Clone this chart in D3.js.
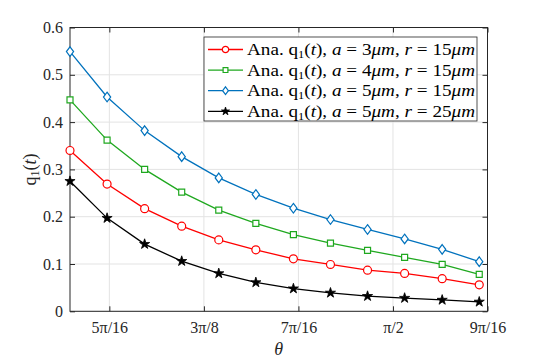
<!DOCTYPE html>
<html>
<head>
<meta charset="utf-8">
<script src="https://cdn.jsdelivr.net/npm/d3@7"></script>
<style>
  body { margin: 0; background: #fff; }
  svg { display: block; }
</style>
</head>
<body>
<svg id="chart" width="540" height="360"></svg>
<script>
// theta samples (rad)
var theta = [0.900, 0.977, 1.055, 1.132, 1.209, 1.286, 1.364, 1.441, 1.518, 1.595, 1.673, 1.750];

var q_a3_r15 = [0.340, 0.269, 0.217, 0.180, 0.151, 0.130, 0.111, 0.099, 0.087, 0.080, 0.069, 0.056];
var q_a4_r15 = [0.447, 0.362, 0.300, 0.252, 0.214, 0.186, 0.162, 0.144, 0.129, 0.114, 0.099, 0.078];
var q_a5_r15 = [0.549, 0.453, 0.382, 0.327, 0.282, 0.247, 0.218, 0.194, 0.173, 0.153, 0.131, 0.105];
var q_a5_r25 = [0.275, 0.197, 0.142, 0.106, 0.080, 0.061, 0.048, 0.039, 0.032, 0.028, 0.024, 0.020];

var xTicks = [5 * Math.PI / 16, 3 * Math.PI / 8, 7 * Math.PI / 16, Math.PI / 2, 9 * Math.PI / 16];
var xTickLabels = ['5\u03c0/16', '3\u03c0/8', '7\u03c0/16', '\u03c0/2', '9\u03c0/16'];
var yTicks = [0, 0.1, 0.2, 0.3, 0.4, 0.5, 0.6];

var series = [
  {a: 3, r: 15, values: q_a3_r15, color: '#ff0000', marker: 'circle'},
  {a: 4, r: 15, values: q_a4_r15, color: '#1fa81f', marker: 'square'},
  {a: 5, r: 15, values: q_a5_r15, color: '#0072bd', marker: 'diamond'},
  {a: 5, r: 25, values: q_a5_r25, color: '#000000', marker: 'star'}
];

var FONT = 'Liberation Serif';
var margin = {left: 70, right: 52.5, top: 27.5, bottom: 48.7};
var width = 540 - margin.left - margin.right,
    height = 360 - margin.top - margin.bottom;

var svg = d3.select('#chart');
var g = svg.append('g').attr('transform', 'translate(' + margin.left + ',' + margin.top + ')');

var x = d3.scaleLinear().domain([0.9, 9 * Math.PI / 16]).range([0, width]);
var y = d3.scaleLinear().domain([0, 0.6]).range([height, 0]);

// grid
g.append('g').selectAll('line').data(xTicks).enter().append('line')
  .attr('x1', function(d) { return x(d); }).attr('x2', function(d) { return x(d); })
  .attr('y1', 0).attr('y2', height)
  .attr('stroke', '#e3e3e3').attr('stroke-width', 1);
g.append('g').selectAll('line').data(yTicks).enter().append('line')
  .attr('y1', function(d) { return y(d); }).attr('y2', function(d) { return y(d); })
  .attr('x1', 0).attr('x2', width)
  .attr('stroke', '#e3e3e3').attr('stroke-width', 1);

// axes (matlab look, ticks inside)
var axisColor = '#262626';
function styleAxis(sel) {
  sel.attr('font-family', FONT).attr('font-size', 16);
  sel.select('.domain').remove();
  sel.selectAll('line').attr('stroke', axisColor);
  sel.selectAll('text').attr('font-family', FONT).attr('font-size', 16).attr('fill', axisColor);
}
var xAxis = d3.axisBottom(x).tickValues(xTicks).tickSizeInner(-5).tickSizeOuter(0).tickPadding(10)
  .tickFormat(function(d, i) { return xTickLabels[i]; });
g.append('g').attr('transform', 'translate(0,' + height + ')').call(xAxis).call(styleAxis);
g.append('g').call(d3.axisTop(x).tickValues(xTicks).tickSizeInner(-5).tickSizeOuter(0).tickFormat(''))
  .call(styleAxis);

var yAxis = d3.axisLeft(y).tickValues(yTicks).tickSizeInner(-5).tickSizeOuter(0).tickPadding(7)
  .tickFormat(function(d) { return d === 0 ? '0' : d3.format('.1f')(d); });
g.append('g').call(yAxis).call(styleAxis);
g.append('g').attr('transform', 'translate(' + width + ',0)')
  .call(d3.axisRight(y).tickValues(yTicks).tickSizeInner(-5).tickSizeOuter(0).tickFormat(''))
  .call(styleAxis);

g.append('rect').attr('x', 0).attr('y', 0).attr('width', width).attr('height', height)
  .attr('fill', 'none').attr('stroke', axisColor).attr('stroke-width', 1);

// markers
function markerPath(s, big) {
  var k = big ? 1 : 0.8;
  if (s.marker === 'diamond') {
    return 'M0,' + (-4.8 * k) + 'L' + (3.6 * k) + ',0L0,' + (4.8 * k) + 'L' + (-3.6 * k) + ',0Z';
  }
  var type = {circle: d3.symbolCircle, square: d3.symbolSquare, star: d3.symbolStar}[s.marker];
  var size = {circle: 50, square: 36, star: 32}[s.marker];
  return d3.symbol().type(type).size(size * k * k)();
}
function drawMarker(sel, s, big) {
  var p = sel.append('path').attr('d', markerPath(s, big));
  if (s.marker === 'star') {
    p.attr('fill', s.color).attr('stroke', s.color).attr('stroke-width', 0.8).attr('stroke-linejoin', 'round');
  } else {
    p.attr('fill', '#fff').attr('stroke', s.color).attr('stroke-width', 1.2);
  }
}

var line = d3.line().x(function(d, i) { return x(theta[i]); }).y(function(d) { return y(d); });

series.forEach(function(s) {
  g.append('path').datum(s.values).attr('d', line)
    .attr('fill', 'none').attr('stroke', s.color).attr('stroke-width', 1.3);
  g.append('g').selectAll('g').data(s.values).enter().append('g')
    .attr('transform', function(d, i) { return 'translate(' + x(theta[i]) + ',' + y(d) + ')'; })
    .each(function() { drawMarker(d3.select(this), s, true); });
});

// legend
var legend = svg.append('g').attr('transform', 'translate(204,37)');
legend.append('rect').attr('width', 273).attr('height', 84)
  .attr('fill', '#fff').attr('stroke', axisColor).attr('stroke-width', 0.8);

function legendLabel(t, s) {
  var parts = [
    ['Ana. ', 'normal'], ['q', 'normal'], ['1', 'sub'], ['(', 'normal'], ['t', 'italic'], ['), ', 'normal'],
    ['a', 'italic'], [' = ' + s.a, 'normal'], ['\u03bcm', 'italic'], [', ', 'normal'],
    ['r', 'italic'], [' = ' + s.r, 'normal'], ['\u03bcm', 'italic']
  ];
  parts.forEach(function(p) {
    var ts = t.append('tspan').text(p[0]);
    if (p[1] === 'italic') ts.attr('font-style', 'italic');
    if (p[1] === 'sub') ts.attr('dy', 3).attr('font-size', 11);
    if (p[0] === '(') ts.attr('dy', -3);
  });
}

series.forEach(function(s, i) {
  var row = legend.append('g').attr('transform', 'translate(0,' + (12.5 + i * 20.6) + ')');
  row.append('line').attr('x1', 4).attr('x2', 39).attr('stroke', s.color).attr('stroke-width', 1.3);
  drawMarker(row.append('g').attr('transform', 'translate(21.5,0)'), s, false);
  var t = row.append('text').attr('x', 43).attr('y', 5.5)
    .attr('font-family', FONT).attr('font-size', 17).attr('fill', '#000')
    .attr('textLength', 228).attr('lengthAdjust', 'spacingAndGlyphs');
  legendLabel(t, s);
});

// axis labels
var yl = svg.append('text')
  .attr('transform', 'translate(36,' + (margin.top + height / 2) + ') rotate(-90)')
  .attr('text-anchor', 'middle').attr('font-family', FONT).attr('font-size', 18).attr('fill', axisColor);
yl.append('tspan').text('q');
yl.append('tspan').text('1').attr('dy', 3).attr('font-size', 12);
yl.append('tspan').text('(').attr('dy', -3);
yl.append('tspan').text('t').attr('font-style', 'italic');
yl.append('tspan').text(')');

svg.append('text').attr('x', margin.left + width / 2).attr('y', 355)
  .attr('text-anchor', 'middle').attr('font-family', FONT).attr('font-size', 18).attr('font-style', 'italic')
  .attr('fill', axisColor).text('\u03b8');
</script>
</body>
</html>
